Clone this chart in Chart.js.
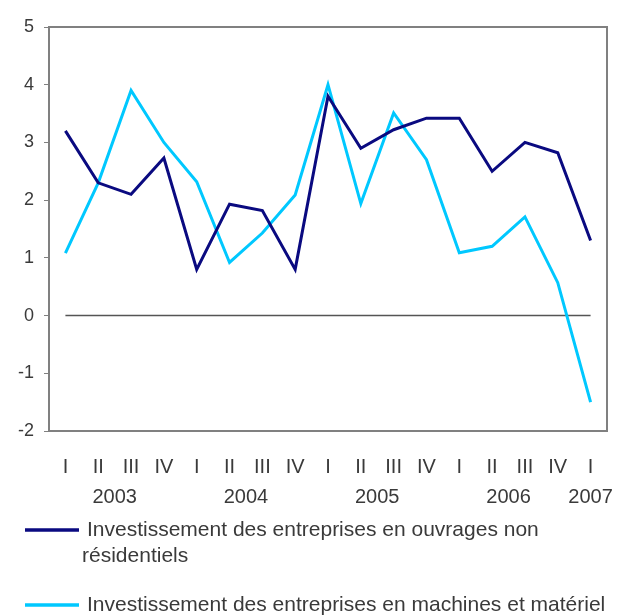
<!DOCTYPE html>
<html>
<head>
<meta charset="utf-8">
<script src="https://cdn.jsdelivr.net/npm/chart.js@4/dist/chart.umd.min.js"></script>
<style>
  html, body { margin: 0; padding: 0; background: #fff; }
  #wrap { width: 623px; height: 616px; position: relative; }
</style>
</head>
<body>
<div id="wrap"><canvas id="c" width="623" height="616"></canvas></div>
<script>
// quarters along the x axis
const quarters = ["I", "II", "III", "IV", "I", "II", "III", "IV", "I", "II", "III", "IV", "I", "II", "III", "IV", "I"];
// year labels and the category index they sit under
const years = ["2003", "2004", "2005", "2006", "2007"];
const yearAt = [1.5, 5.5, 9.5, 13.5, 16];

const ouvrages = [3.2, 2.3, 2.1, 2.73, 0.8, 1.93, 1.82, 0.8, 3.8, 2.9, 3.22, 3.42, 3.42, 2.5, 3.0, 2.82, 1.3];
const machines = [1.08, 2.3, 3.9, 3.0, 2.32, 0.92, 1.43, 2.09, 4.0, 1.94, 3.51, 2.7, 1.09, 1.2, 1.71, 0.57, -1.5];

const legendLabels = [
  ["Investissement des entreprises en ouvrages non", "résidentiels"],
  ["Investissement des entreprises en machines et matériel"]
];

const NAVY = "#0a0a80";
const CYAN = "#00c8ff";
const TXT = "#3a3a3a";
const FONT = "'Liberation Sans', Arial, sans-serif";

// frame, zero line, years and legend
const extras = {
  id: "extras",
  beforeDatasetsDraw(chart) {
    const { ctx, chartArea: a, scales: { x, y } } = chart;
    ctx.save();
    ctx.strokeStyle = "#808080";
    ctx.lineWidth = 2;
    ctx.beginPath();
    ctx.moveTo(a.left, a.top);
    ctx.lineTo(a.right, a.top);
    ctx.lineTo(a.right, a.bottom);
    ctx.stroke();
    // zero line
    ctx.strokeStyle = "#555";
    ctx.lineWidth = 1.5;
    ctx.beginPath();
    ctx.moveTo(x.getPixelForValue(0), y.getPixelForValue(0));
    ctx.lineTo(x.getPixelForValue(quarters.length - 1), y.getPixelForValue(0));
    ctx.stroke();
    ctx.restore();
  },
  afterDraw(chart) {
    const { ctx, scales: { x } } = chart;
    ctx.save();
    ctx.fillStyle = TXT;
    ctx.font = "20px " + FONT;
    ctx.textAlign = "center";
    ctx.textBaseline = "middle";
    years.forEach((yr, i) => {
      const lo = Math.floor(yearAt[i]);
      const hi = Math.ceil(yearAt[i]);
      const px = (x.getPixelForValue(lo) + x.getPixelForValue(hi)) / 2;
      ctx.fillText(yr, px, 497);
    });

    // legend
    const rows = [[530, 556], [605]];
    const cols = [NAVY, CYAN];
    ctx.textAlign = "left";
    ctx.font = "21px " + FONT;
    legendLabels.forEach((lines, i) => {
      ctx.strokeStyle = cols[i];
      ctx.lineWidth = 3.5;
      ctx.beginPath();
      ctx.moveTo(25, rows[i][0]);
      ctx.lineTo(79, rows[i][0]);
      ctx.stroke();
      lines.forEach((t, j) => {
        ctx.fillText(t, j === 0 ? 87 : 82, rows[i][j]);
      });
    });
    ctx.restore();
  }
};

new Chart(document.getElementById("c"), {
  type: "line",
  data: {
    labels: quarters,
    datasets: [
      { data: ouvrages, borderColor: NAVY, borderWidth: 3, pointRadius: 0, tension: 0 },
      { data: machines, borderColor: CYAN, borderWidth: 3, pointRadius: 0, tension: 0 }
    ]
  },
  options: {
    responsive: false,
    animation: false,
    layout: { padding: { top: 27, right: 16, left: 0, bottom: 0 } },
    plugins: { legend: { display: false }, tooltip: { enabled: false } },
    scales: {
      x: {
        offset: true,
        grid: { display: false },
        border: { display: true, color: "#808080", width: 2 },
        ticks: { color: TXT, font: { family: FONT, size: 20 }, padding: 16, maxRotation: 0, autoSkip: false },
        afterFit(s) { s.height = 616 - 431; }
      },
      y: {
        min: -2,
        max: 5,
        ticks: { stepSize: 1, color: TXT, font: { family: FONT, size: 18 }, padding: 10 },
        grid: { drawOnChartArea: false, tickLength: 5, color: "#808080" },
        border: { display: true, color: "#808080", width: 2 },
        afterFit(s) { s.width = 49; }
      }
    }
  },
  plugins: [extras]
});
</script>
</body>
</html>
